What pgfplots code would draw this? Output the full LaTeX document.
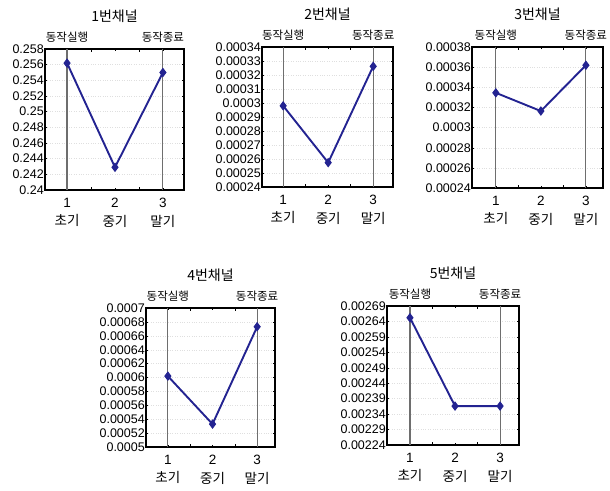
\documentclass[border=0pt]{standalone}
\usepackage{pgfplots}
\pgfplotsset{compat=1.18}
\usepackage{fontspec}
\setmainfont{Liberation Sans}
\newfontfamily\kr{Noto Sans CJK KR}
\definecolor{navy}{RGB}{35,35,145}
\definecolor{vline}{RGB}{110,110,110}
\pgfplotsset{ch/.style={
  scale only axis, anchor=south west, scaled y ticks=false,
  axis line style={line width=1.6pt},
  xtick={1,2,3}, xticklabels={{1\\{\kr 초기}},{2\\{\kr 중기}},{3\\{\kr 말기}}},
  minor xtick={1.5,2.5},
  xticklabel style={align=center, font=\fontsize{13.5}{18.5}\selectfont, inner sep=1pt, yshift=-7pt},
  yticklabel style={font=\fontsize{12.5}{13}\selectfont, inner sep=1pt},
  tick align=inside, major tick length=2pt, minor tick length=3pt,
  tick style={black, thin},
  ymajorgrids, grid style={gray!25, dotted},
  clip=false,
}}
\pgfplotsset{dat/.style={navy, line width=1.9pt, mark=diamond*, mark size=4pt, mark options={fill=navy, solid, line width=1pt}}}
\newcommand{\toplabels}[1]{%
  \node[anchor=south, font=\kr\fontsize{11.5}{12}\selectfont, inner sep=1pt] at (axis cs:1,#1) [yshift=5pt] {동작실행};
  \node[anchor=south, font=\kr\fontsize{11.5}{12}\selectfont, inner sep=1pt] at (axis cs:3,#1) [yshift=5pt] {동작종료};}
\newcommand{\vlines}[2]{%
  \draw[vline, line width=1.1pt] (axis cs:1,#1) -- (axis cs:1,#2);
  \draw[vline, line width=1.1pt] (axis cs:3,#1) -- (axis cs:3,#2);}
\newcommand{\ttl}[1]{\node[font=\kr\fontsize{14}{15}\selectfont] at (rel axis cs:0.5,1) [yshift=33pt] {#1};}
\begin{document}
\begin{tikzpicture}
\path[use as bounding box] (0pt,0pt) rectangle (610pt,-490pt);
% Panel 1
\begin{axis}[ch, at={(45pt,-190pt)}, width=139pt, height=141pt, xmin=0.54, xmax=3.44, ymin=0.24, ymax=0.258,
  ytick={0.24,0.242,0.244,0.246,0.248,0.25,0.252,0.254,0.256,0.258},
  yticklabels={0.24,0.242,0.244,0.246,0.248,0.25,0.252,0.254,0.256,0.258}]
\vlines{0.24}{0.258}
\addplot[dat] coordinates {(1,0.2562) (2,0.2429) (3,0.2550)};
\toplabels{0.258}
\ttl{1번채널}
\end{axis}
% Panel 2
\begin{axis}[ch, at={(262pt,-187pt)}, width=131pt, height=140pt, xmin=0.53, xmax=3.44, ymin=0.00024, ymax=0.00034,
  ytick={0.00024,0.00025,0.00026,0.00027,0.00028,0.00029,0.0003,0.00031,0.00032,0.00033,0.00034},
  yticklabels={0.00024,0.00025,0.00026,0.00027,0.00028,0.00029,0.0003,0.00031,0.00032,0.00033,0.00034}]
\vlines{0.00024}{0.00034}
\addplot[dat] coordinates {(1,0.000298) (2,0.0002574) (3,0.0003262)};
\toplabels{0.00034}
\ttl{2번채널}
\end{axis}
% Panel 3
\begin{axis}[ch, at={(472pt,-188pt)}, width=131pt, height=141pt, xmin=0.47, xmax=3.38, ymin=0.00024, ymax=0.00038,
  ytick={0.00024,0.00026,0.00028,0.0003,0.00032,0.00034,0.00036,0.00038},
  yticklabels={0.00024,0.00026,0.00028,0.0003,0.00032,0.00034,0.00036,0.00038}]
\vlines{0.00024}{0.00038}
\addplot[dat] coordinates {(1,0.0003345) (2,0.0003164) (3,0.0003619)};
\toplabels{0.00038}
\ttl{3번채널}
\end{axis}
% Panel 4
\begin{axis}[ch, at={(146pt,-447pt)}, width=129pt, height=139pt, xmin=0.51, xmax=3.40, ymin=0.0005, ymax=0.0007,
  ytick={0.0005,0.00052,0.00054,0.00056,0.00058,0.0006,0.00062,0.00064,0.00066,0.00068,0.0007},
  yticklabels={0.0005,0.00052,0.00054,0.00056,0.00058,0.0006,0.00062,0.00064,0.00066,0.00068,0.0007}]
\vlines{0.0005}{0.0007}
\addplot[dat] coordinates {(1,0.000602) (2,0.000533) (3,0.000673)};
\toplabels{0.0007}
\ttl{4번채널}
\end{axis}
% Panel 5
\begin{axis}[ch, at={(387pt,-445pt)}, width=132pt, height=139pt, xmin=0.49, xmax=3.42, ymin=0.00224, ymax=0.00269,
  ytick={0.00224,0.00229,0.00234,0.00239,0.00244,0.00249,0.00254,0.00259,0.00264,0.00269},
  yticklabels={0.00224,0.00229,0.00234,0.00239,0.00244,0.00249,0.00254,0.00259,0.00264,0.00269}]
\vlines{0.00224}{0.00269}
\addplot[dat] coordinates {(1,0.002652) (2,0.002366) (3,0.002366)};
\toplabels{0.00269}
\ttl{5번채널}
\end{axis}
\end{tikzpicture}
\end{document}
